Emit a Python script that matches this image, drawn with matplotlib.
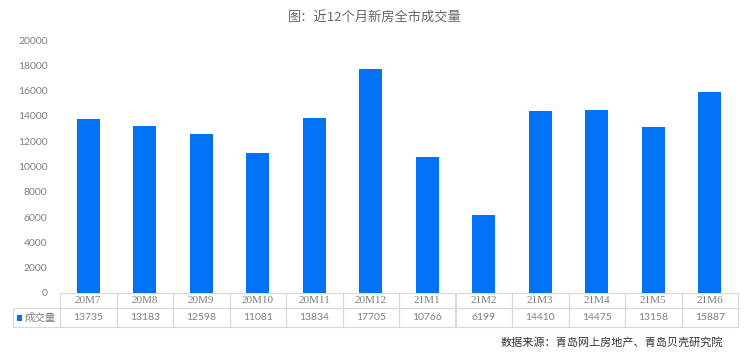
import matplotlib
matplotlib.use("Agg")
import matplotlib.pyplot as plt
from matplotlib.patches import Rectangle

categories = ["20M7", "20M8", "20M9", "20M10", "20M11", "20M12",
              "21M1", "21M2", "21M3", "21M4", "21M5", "21M6"]
values = [13735, 13183, 12598, 11081, 13834, 17705,
          10766, 6199, 14410, 14475, 13158, 15887]
series_name = "成交量"
title = "图：近12个月新房全市成交量"
source = "数据来源：青岛网上房地产、青岛贝壳研究院"
yticks = [0, 2000, 4000, 6000, 8000, 10000, 12000, 14000, 16000, 18000, 20000]

BLUE = "#0072F5"
GRAY = "#7F7F7F"
LINE = "#D9D9D9"
CJK = ["Noto Sans CJK SC", "DejaVu Sans"]
NUM = ["Lato", "DejaVu Sans"]

W, H = 749, 358
fig = plt.figure(figsize=(W / 100, H / 100), dpi=100)
fig.patch.set_facecolor("white")

ax_l, ax_r, ax_t, ax_b = 60, 738, 40, 293
ax = fig.add_axes([ax_l / W, 1 - ax_b / H, (ax_r - ax_l) / W, (ax_b - ax_t) / H])

x = list(range(len(categories)))
ax.bar(x, values, width=0.4, color=BLUE, zorder=2)
ax.set_xlim(-0.5, len(categories) - 0.5)
ax.set_ylim(0, 20000)
ax.set_yticks(yticks)
ax.set_yticklabels([str(v) for v in yticks], fontfamily=NUM, fontsize=7.5, color=GRAY)
ax.tick_params(axis="y", length=0, pad=9)
ax.set_xticks([])
for s in ax.spines.values():
    s.set_visible(False)

# data table below the axes
col_w = 1.0 / len(categories)
row_h_px = [15, 19]
tab_left_px = 13
h1 = row_h_px[0] / (ax_b - ax_t)
h2 = row_h_px[1] / (ax_b - ax_t)
lab_w = (ax_l - tab_left_px) / (ax_r - ax_l)
tr = ax.transAxes
for i, c in enumerate(categories):
    ax.add_patch(Rectangle((i * col_w, -h1), col_w, h1, transform=tr, fill=False,
                           edgecolor=LINE, lw=0.8, clip_on=False))
    ax.text((i + 0.5) * col_w, -h1 / 2, c, transform=tr, ha="center", va="center",
            fontsize=8, color=GRAY, fontfamily=["Liberation Serif", "DejaVu Serif"])
    ax.add_patch(Rectangle((i * col_w, -h1 - h2), col_w, h2, transform=tr, fill=False,
                           edgecolor=LINE, lw=0.8, clip_on=False))
    ax.text((i + 0.5) * col_w, -h1 - h2 / 2, str(values[i]), transform=tr,
            ha="center", va="center", fontsize=7.5, color=GRAY, fontfamily=NUM)
ax.add_patch(Rectangle((-lab_w, -h1 - h2), lab_w, h2, transform=tr, fill=False,
                       edgecolor=LINE, lw=0.8, clip_on=False))
ax.add_patch(Rectangle((-lab_w + 4 / (ax_r - ax_l), -h1 - h2 / 2 - 3 / (ax_b - ax_t)),
                       5 / (ax_r - ax_l), 6 / (ax_b - ax_t), transform=tr,
                       facecolor=BLUE, edgecolor="none", clip_on=False))
ax.text(-lab_w + 12 / (ax_r - ax_l), -h1 - h2 / 2, series_name, transform=tr,
        ha="left", va="center", fontsize=7.5, color=GRAY, fontfamily=CJK)

fig.text(374.5 / W, 1 - 18 / H, title, ha="center", va="center",
         fontsize=9.5, color="#666666", fontfamily=CJK)
fig.text(723 / W, 1 - 342 / H, source, ha="right", va="center",
         fontsize=8, color="#333333", fontfamily=CJK)

fig.savefig("out.png", dpi=100, facecolor="white")
